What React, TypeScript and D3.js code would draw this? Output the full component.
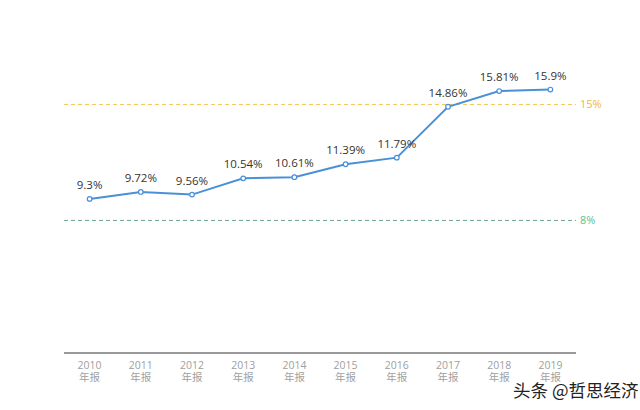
import React from "react";
import * as d3 from "d3";

const years = ["2010", "2011", "2012", "2013", "2014", "2015", "2016", "2017", "2018", "2019"];
const suffix = "年报";
const values = [9.3, 9.72, 9.56, 10.54, 10.61, 11.39, 11.79, 14.86, 15.81, 15.9];
const labels = ["9.3%", "9.72%", "9.56%", "10.54%", "10.61%", "11.39%", "11.79%", "14.86%", "15.81%", "15.9%"];
const refLines = [
  { value: 15, label: "15%", color: "#f3c84f", text: "#f2b53c" },
  { value: 8, label: "8%", color: "#6aa592", text: "#5fbf8c" },
];
const watermark = "头条 @哲思经济";

const W = 640;
const H = 410;
const left = 64;
const right = 576;
const bottom = 353;

export default function App() {
  const x = d3.scaleBand<string>().domain(years).range([left, right]);
  const y = d3.scaleLinear().domain([0, 16]).range([bottom, bottom - 16 * 16.57]);
  const cx = (d: string) => (x(d) as number) + x.bandwidth() / 2;
  const line = d3
    .line<number>()
    .x((_, i) => cx(years[i]))
    .y((v) => y(v));
  const font = "'Open Sans', 'Noto Sans CJK SC', sans-serif";
  return (
    <svg
      width={W}
      height={H}
      style={{ position: "absolute", left: 0, top: 0, background: "#fff" }}
      fontFamily={font}
    >
      {refLines.map((r) => (
        <g key={r.label}>
          <line
            x1={left}
            x2={right}
            y1={y(r.value)}
            y2={y(r.value)}
            stroke={r.color}
            strokeWidth={1}
            strokeDasharray="4,3"
          />
          <text x={580} y={y(r.value) + 4} fontSize={11} fill={r.text}>
            {r.label}
          </text>
        </g>
      ))}
      <line x1={left} x2={right} y1={bottom} y2={bottom} stroke="#777" strokeWidth={1.5} />
      {years.map((yr) => (
        <g key={yr} fill="#a0a0a0" fontSize={10.5} textAnchor="middle">
          <text x={cx(yr)} y={369}>
            {yr}
          </text>
          <text x={cx(yr)} y={381} fontFamily="'Noto Sans CJK SC', sans-serif">
            {suffix}
          </text>
        </g>
      ))}
      <path d={line(values) || ""} fill="none" stroke="#4a90d9" strokeWidth={2} />
      {values.map((v, i) => (
        <g key={years[i]}>
          <circle cx={cx(years[i])} cy={y(v)} r={2.3} fill="#fff" stroke="#4a90d9" strokeWidth={1.2} />
          <text x={cx(years[i])} y={y(v) - 10} textAnchor="middle" fontSize={11.5} fill="#333">
            {labels[i]}
          </text>
        </g>
      ))}
      <text
        x={513}
        y={397}
        fontSize={17.5}
        fill="#222"
        stroke="#fff"
        strokeWidth={2}
        paintOrder="stroke"
        fontFamily="'Noto Sans CJK SC', sans-serif"
      >
        {watermark}
      </text>
    </svg>
  );
}
